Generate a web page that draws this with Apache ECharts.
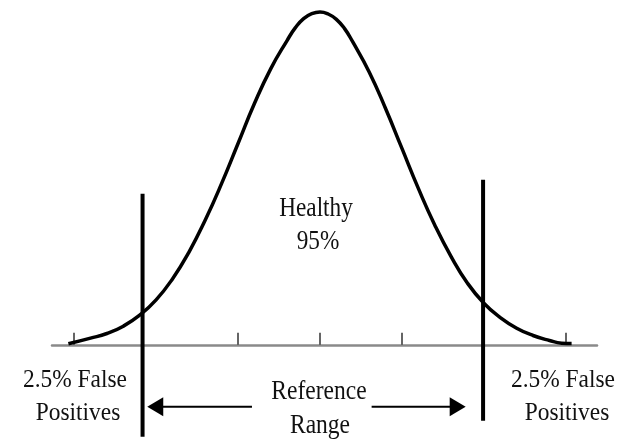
<!DOCTYPE html>
<html>
<head>
<meta charset="utf-8">
<script src="https://cdn.jsdelivr.net/npm/echarts@6/dist/echarts.min.js"></script>
<style>
  html, body { margin: 0; padding: 0; background: #fff; }
  #chart { width: 635px; height: 440px; }
</style>
</head>
<body>
<div id="chart"></div>
<script>
// curve: x in tick units (sd), height as % of peak
const curveX = [-3.07, -2.8, -2.6, -2.4, -2.2, -2.0, -1.8, -1.6, -1.4, -1.2, -1.0, -0.8, -0.6, -0.4, -0.3, -0.2, -0.1, 0,
  0.1, 0.2, 0.3, 0.4, 0.6, 0.8, 1.0, 1.2, 1.4, 1.6, 1.8, 2.0, 2.2, 2.4, 2.6, 2.8, 2.95, 3.07];
const curveY = [0.3, 2.0, 3.4, 5.6, 8.9, 13.5, 19.8, 27.8, 37.5, 48.5, 60.5, 72.5, 83, 91.5, 95.3, 98, 99.5, 100,
  99.4, 97.8, 95, 91, 82, 71, 59, 47, 36, 26.5, 18.5, 12.5, 8.2, 5.0, 2.8, 1.3, 0.5, 0.4];
const tickValues = [-3, -1, 0, 1, 2, 3];

// cut-off lines: [x, top, bottom]
const cutLeft = [-2.165, 45.4, -27.6];
const cutRight = [1.99, 49.6, -22.8];

// arrows: [from, to, y]
const arrowLeft = [-0.83, -2.01, -18.6];
const arrowRight = [0.63, 1.68, -18.6];

const centerLabels = ['Healthy', '95%'];
const rangeLabels = ['Reference', 'Range'];
const tailLabels = ['2.5% False', 'Positives'];

function lineSeries(data, width) {
  return {
    type: 'line',
    data: data,
    symbol: 'none',
    silent: true,
    clip: false,
    lineStyle: { color: '#000', width: width },
    z: 3
  };
}

function arrowSeries(a) {
  const dir = a[1] < a[0] ? 90 : -90;
  return {
    type: 'line',
    silent: true,
    clip: false,
    data: [
      { value: [a[0], a[2]], symbol: 'none' },
      { value: [a[1], a[2]], symbol: 'triangle', symbolSize: [19, 16], symbolRotate: dir }
    ],
    showSymbol: true,
    itemStyle: { color: '#000' },
    lineStyle: { color: '#000', width: 2 }
  };
}

function txt(text, x, y, size, sx) {
  return {
    type: 'text',
    x: x,
    y: y,
    scaleX: sx,
    style: {
      text: text,
      x: 0,
      y: 0,
      fill: '#111',
      font: size + 'px "Liberation Serif", "DejaVu Serif", serif',
      textAlign: 'center',
      textVerticalAlign: 'middle'
    }
  };
}

function renderChart() {
  const chart = echarts.init(document.getElementById('chart'));
  const option = {
    animation: false,
    grid: { left: 52, right: 38, top: 12, bottom: 2 },
    xAxis: {
      type: 'value',
      min: -3.27,
      max: 3.38,
      splitLine: { show: false },
      axisLabel: { show: false },
      axisLine: { onZero: true, lineStyle: { color: '#8a8a8a', width: 2.5 } },
      axisTick: {
        show: true,
        inside: true,
        length: 12,
        customValues: tickValues,
        lineStyle: { color: '#333', width: 1.5 }
      }
    },
    yAxis: {
      type: 'value',
      min: -28,
      max: 100,
      show: false,
      splitLine: { show: false }
    },
    series: [
      Object.assign(lineSeries(curveX.map(function(x, i) { return [x, curveY[i]]; }), 3.5), { smooth: 0.5 }),
      lineSeries([[cutLeft[0], cutLeft[1]], [cutLeft[0], cutLeft[2]]], 4),
      lineSeries([[cutRight[0], cutRight[1]], [cutRight[0], cutRight[2]]], 4),
      arrowSeries(arrowLeft),
      arrowSeries(arrowRight)
    ],
    graphic: [
      txt(centerLabels[0], 316, 209, 28, 0.83),
      txt(centerLabels[1], 318, 242, 28, 0.83),
      txt(rangeLabels[0], 319, 392, 28, 0.84),
      txt(rangeLabels[1], 320, 426, 28, 0.84),
      txt(tailLabels[0], 75, 380, 26, 0.9),
      txt(tailLabels[1], 78, 413, 26, 0.9),
      txt(tailLabels[0], 563, 380, 26, 0.9),
      txt(tailLabels[1], 567, 413, 26, 0.9)
    ]
  };
  chart.setOption(option, true);
}

renderChart();
</script>
</body>
</html>
